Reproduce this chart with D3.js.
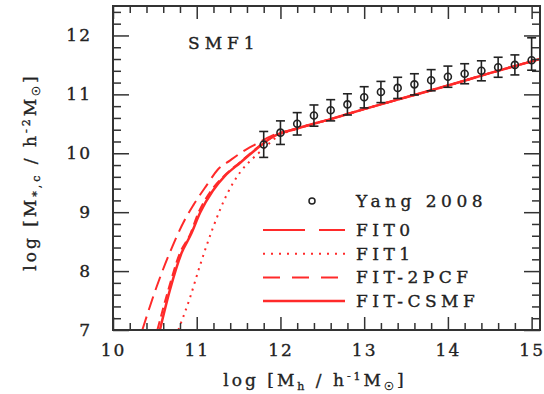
<!DOCTYPE html>
<html>
<head>
<meta charset="utf-8">
<script src="https://cdn.jsdelivr.net/npm/d3@7"></script>
<style>
  body { margin: 0; background: #fff; }
  text { font-family: "DejaVu Serif", serif; fill: #222; stroke: #222; stroke-width: 0.35px; }
</style>
</head>
<body>
<div id="chart"></div>
<script>
// Yang 2008 points
var haloMass = [11.8, 12.0, 12.2, 12.4, 12.6, 12.8, 13.0, 13.2, 13.4, 13.6, 13.8, 14.0, 14.2, 14.4, 14.6, 14.8, 15.0];
var stellarMass = [10.15, 10.35, 10.50, 10.64, 10.73, 10.83, 10.95, 11.04, 11.11, 11.17, 11.24, 11.30, 11.35, 11.40, 11.46, 11.50, 11.58];
var errLo = [0.22, 0.20, 0.19, 0.18, 0.18, 0.18, 0.18, 0.18, 0.18, 0.18, 0.18, 0.18, 0.17, 0.17, 0.17, 0.17, 0.17];
var errHi = [0.22, 0.20, 0.19, 0.18, 0.18, 0.18, 0.18, 0.18, 0.18, 0.18, 0.18, 0.18, 0.17, 0.17, 0.17, 0.17, 0.38];

// model curves
var fit0X = [10.35, 10.52, 10.71, 10.85, 10.96, 11.12, 11.25, 11.40, 11.54, 11.70, 11.90, 12.2, 12.6, 13.0, 13.5, 14.0, 14.5, 15.1];
var fit0Y = [7.0, 7.73, 8.42, 8.85, 9.12, 9.46, 9.72, 9.88, 10.02, 10.15, 10.30, 10.42, 10.58, 10.75, 10.95, 11.15, 11.36, 11.60];
var fit1X = [10.78, 10.92, 11.04, 11.19, 11.36, 11.52, 11.66, 11.80, 11.95, 12.2, 12.6, 13.0, 13.5, 14.0, 14.5, 15.1];
var fit1Y = [7.0, 7.55, 8.10, 8.72, 9.30, 9.68, 9.90, 10.08, 10.27, 10.42, 10.58, 10.75, 10.95, 11.15, 11.36, 11.60];
var fit2pcfX = [10.53, 10.66, 10.80, 10.92, 11.02, 11.17, 11.33, 11.51, 11.71, 11.91, 12.2, 12.6, 13.0, 13.5, 14.0, 14.5, 15.1];
var fit2pcfY = [7.0, 7.68, 8.31, 8.62, 8.99, 9.36, 9.62, 9.84, 10.08, 10.28, 10.42, 10.58, 10.75, 10.95, 11.15, 11.36, 11.60];
var csmfX = [10.56, 10.68, 10.82, 10.93, 11.04, 11.19, 11.34, 11.52, 11.72, 11.91, 12.2, 12.6, 13.0, 13.5, 14.0, 14.5, 15.1];
var csmfY = [7.0, 7.68, 8.31, 8.62, 8.99, 9.36, 9.62, 9.84, 10.08, 10.28, 10.42, 10.58, 10.75, 10.95, 11.15, 11.36, 11.60];

var xMajor = [10, 11, 12, 13, 14, 15];
var yMajor = [7, 8, 9, 10, 11, 12];
var legendNames = ['FIT0', 'FIT1', 'FIT-2PCF', 'FIT-CSMF'];

var width = 544, height = 394;
var plotL = 113, plotR = 540, plotT = 6, plotB = 330;

var svg = d3.select('#chart').append('svg')
  .attr('width', width)
  .attr('height', height);

var x = d3.scaleLinear().domain([10, 15.1]).range([plotL, plotR]);
var y = d3.scaleLinear().domain([7, 12.5]).range([plotB, plotT]);

var xMinor = d3.range(10, 15.11, 0.2).filter(function(v) { return Math.abs(v - Math.round(v)) > 0.01; });
var yMinor = d3.range(7, 12.51, 0.2).filter(function(v) { return Math.abs(v - Math.round(v)) > 0.01; });

var red = '#ff2a2a';
var curves = [
  { name: 'FIT0', xs: fit0X, ys: fit0Y, dash: '14,7', w: 2, legendDash: '42,14' },
  { name: 'FIT1', xs: fit1X, ys: fit1Y, dash: '2,5', w: 2, legendDash: '2,6' },
  { name: 'FIT-2PCF', xs: fit2pcfX, ys: fit2pcfY, dash: '9,5', w: 2, legendDash: '17,12' },
  { name: 'FIT-CSMF', xs: csmfX, ys: csmfY, dash: null, w: 2.5, legendDash: null }
];

// curves
var line = d3.line()
  .x(function(d) { return x(d[0]); })
  .y(function(d) { return y(d[1]); })
  .curve(d3.curveMonotoneX);

svg.append('g').attr('class', 'curves').selectAll('path').data(curves)
  .enter().append('path')
  .attr('d', function(c) { return line(d3.zip(c.xs, c.ys)); })
  .attr('fill', 'none')
  .attr('stroke', red)
  .attr('stroke-width', function(c) { return c.w; })
  .attr('stroke-dasharray', function(c) { return c.dash; });

// axes, ticks pointing inward
function styleAxis(g) {
  g.select('.domain').remove();
  g.selectAll('line').attr('stroke', '#333').attr('stroke-width', 1.5);
  g.selectAll('text').attr('font-size', 17).attr('letter-spacing', 2)
    .style('font-family', '"DejaVu Serif", serif').attr('fill', '#222');
}

svg.append('g').attr('transform', 'translate(0,' + plotB + ')')
  .call(d3.axisBottom(x).tickValues(xMajor).tickSize(-13).tickPadding(14).tickFormat(d3.format('d')))
  .call(styleAxis);
svg.append('g').attr('transform', 'translate(0,' + plotB + ')')
  .call(d3.axisBottom(x).tickValues(xMinor).tickSize(-7).tickFormat(''))
  .call(styleAxis);
svg.append('g').attr('transform', 'translate(0,' + plotT + ')')
  .call(d3.axisTop(x).tickValues(xMajor).tickSize(-13).tickFormat(''))
  .call(styleAxis);
svg.append('g').attr('transform', 'translate(0,' + plotT + ')')
  .call(d3.axisTop(x).tickValues(xMinor).tickSize(-7).tickFormat(''))
  .call(styleAxis);

svg.append('g').attr('transform', 'translate(' + plotL + ',0)')
  .call(d3.axisLeft(y).tickValues(yMajor).tickSize(-16).tickPadding(21).tickFormat(d3.format('d')))
  .call(styleAxis);
svg.append('g').attr('transform', 'translate(' + plotL + ',0)')
  .call(d3.axisLeft(y).tickValues(yMinor).tickSize(-8).tickFormat(''))
  .call(styleAxis);
svg.append('g').attr('transform', 'translate(' + plotR + ',0)')
  .call(d3.axisRight(y).tickValues(yMajor).tickSize(-16).tickFormat(''))
  .call(styleAxis);
svg.append('g').attr('transform', 'translate(' + plotR + ',0)')
  .call(d3.axisRight(y).tickValues(yMinor).tickSize(-8).tickFormat(''))
  .call(styleAxis);

svg.append('rect')
  .attr('x', plotL).attr('y', plotT)
  .attr('width', plotR - plotL).attr('height', plotB - plotT)
  .attr('fill', 'none').attr('stroke', '#333').attr('stroke-width', 2);

// data points with error bars
var pts = haloMass.map(function(m, i) {
  return { x: m, y: stellarMass[i], lo: errLo[i], hi: errHi[i] };
});
var pg = svg.append('g').attr('class', 'points');
var pt = pg.selectAll('g').data(pts).enter().append('g')
  .attr('stroke', '#222').attr('stroke-width', 1.6).attr('fill', 'none');
pt.append('line')
  .attr('x1', function(d) { return x(d.x); })
  .attr('x2', function(d) { return x(d.x); })
  .attr('y1', function(d) { return y(d.y - d.lo); })
  .attr('y2', function(d) { return y(d.y + d.hi); });
pt.append('line')
  .attr('x1', function(d) { return x(d.x) - 4.5; })
  .attr('x2', function(d) { return x(d.x) + 4.5; })
  .attr('y1', function(d) { return y(d.y + d.hi); })
  .attr('y2', function(d) { return y(d.y + d.hi); });
pt.append('line')
  .attr('x1', function(d) { return x(d.x) - 4.5; })
  .attr('x2', function(d) { return x(d.x) + 4.5; })
  .attr('y1', function(d) { return y(d.y - d.lo); })
  .attr('y2', function(d) { return y(d.y - d.lo); });
pt.append('circle')
  .attr('cx', function(d) { return x(d.x); })
  .attr('cy', function(d) { return y(d.y); })
  .attr('r', 3.5);

// panel label
svg.append('text')
  .attr('x', 188).attr('y', 49)
  .attr('font-size', 17).attr('letter-spacing', 5)
  .attr('stroke-width', 0.6)
  .text('SMF1');

// legend
var lg = svg.append('g').attr('class', 'legend');
lg.append('circle').attr('cx', 312).attr('cy', 201).attr('r', 3)
  .attr('fill', 'none').attr('stroke', '#222').attr('stroke-width', 1.5);
lg.append('text').attr('x', 356).attr('y', 207)
  .attr('font-size', 17).attr('letter-spacing', 4.5).text('Yang 2008');

var rows = lg.selectAll('g.row').data(curves).enter().append('g')
  .attr('class', 'row')
  .attr('transform', function(d, i) { return 'translate(0,' + (230 + i * 23.7) + ')'; });
rows.append('line')
  .attr('x1', 263).attr('x2', 345)
  .attr('stroke', red)
  .attr('stroke-width', function(c) { return c.w; })
  .attr('stroke-dasharray', function(c) { return c.legendDash; });
rows.append('text')
  .attr('x', 356).attr('y', 6)
  .attr('font-size', 17).attr('letter-spacing', 4.5)
  .text(function(c, i) { return legendNames[i]; });

// axis titles
var xt = svg.append('text')
  .attr('x', 315).attr('y', 386)
  .attr('text-anchor', 'middle')
  .attr('font-size', 17).attr('letter-spacing', 3);
xt.append('tspan').text('log [M');
xt.append('tspan').attr('font-size', 11).attr('dy', 4).text('h');
xt.append('tspan').attr('dy', -4).text(' / h');
xt.append('tspan').attr('font-size', 11).attr('dy', -6).text('-1');
xt.append('tspan').attr('dy', 6).text('M');
xt.append('tspan').attr('font-size', 11).attr('dy', 4).text('\u2609');
xt.append('tspan').attr('dy', -4).text(']');

var yt = svg.append('text')
  .attr('transform', 'translate(36,172) rotate(-90)')
  .attr('text-anchor', 'middle')
  .attr('font-size', 17).attr('letter-spacing', 3);
yt.append('tspan').text('log [M');
yt.append('tspan').attr('font-size', 11).attr('dy', 4).text('*,c');
yt.append('tspan').attr('dy', -4).text(' / h');
yt.append('tspan').attr('font-size', 11).attr('dy', -6).text('-2');
yt.append('tspan').attr('dy', 6).text('M');
yt.append('tspan').attr('font-size', 11).attr('dy', 4).text('\u2609');
yt.append('tspan').attr('dy', -4).text(']');
</script>
</body>
</html>
